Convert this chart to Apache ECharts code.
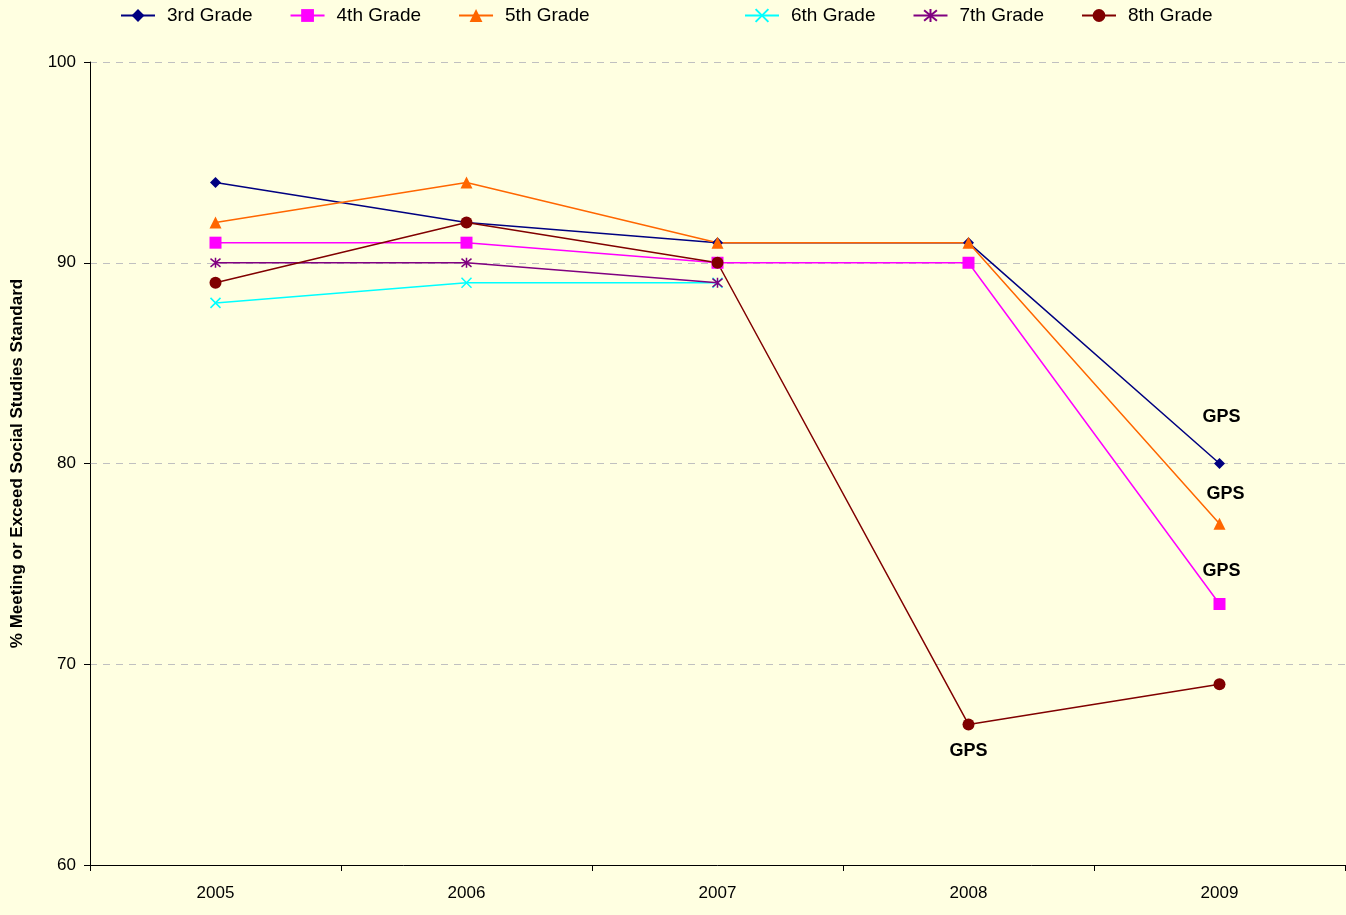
<!DOCTYPE html>
<html>
<head>
<meta charset="utf-8">
<script src="https://cdn.jsdelivr.net/npm/echarts@6/dist/echarts.min.js"></script>
<style>
html,body{margin:0;padding:0;background:#FFFFE1;}
#chart{width:1346px;height:915px;}
</style>
</head>
<body>
<div id="chart"></div>
<script>
const years = ['2005', '2006', '2007', '2008', '2009'];
const grade3 = [94, 92, 91, 91, 80];
const grade4 = [91, 91, 90, 90, 73];
const grade5 = [92, 94, 91, 91, 77];
const grade6 = [88, 89, 89, null, null];
const grade7 = [90, 90, 89, null, null];
const grade8 = [89, 92, 90, 67, 69];
const seriesNames = ['3rd Grade', '4th Grade', '5th Grade', '6th Grade', '7th Grade', '8th Grade'];
const yTicks = [60, 70, 80, 90, 100];
const noteText = 'GPS';

const chart = echarts.init(document.getElementById('chart'));

function gps(arr, idx, labelOpt) {
  return arr.map((v, i) => {
    if (i !== idx) return v;
    return { value: v, label: Object.assign({
      show: true, formatter: noteText, color: '#000', fontWeight: 'bold',
      fontSize: 18, fontFamily: 'Liberation Sans, Arial, sans-serif'
    }, labelOpt) };
  });
}

const crossPath = 'path://M0 0L10 10M10 0L0 10';
const starPath = 'path://M0 0L10 10M10 0L0 10M5 -1L5 11';

function mk(name, data, color, symbol, size, extra) {
  return Object.assign({
    name: name, type: 'line', data: data, connectNulls: false,
    symbol: symbol, symbolSize: size,
    lineStyle: { color: color, width: 1.5 },
    itemStyle: { color: color },
    emphasis: { disabled: true },
    animation: false
  }, extra || {});
}

const legendText = { fontSize: 19, color: '#000', fontFamily: 'Liberation Sans, Arial, sans-serif', padding: [0, 0, 0, 7] };

chart.setOption({
  backgroundColor: '#FFFFE1',
  animation: false,
  legend: [
    { data: seriesNames.slice(0, 3), left: 115, top: 1, itemWidth: 34, itemHeight: 16, itemGap: 37, textStyle: legendText },
    { data: seriesNames.slice(3), left: 739, top: 1, itemWidth: 34, itemHeight: 16, itemGap: 37, textStyle: legendText }
  ],
  grid: { left: 90, right: 1, top: 62, bottom: 50 },
  xAxis: {
    type: 'category', data: years, boundaryGap: true,
    axisLine: { lineStyle: { color: '#000', width: 1 } },
    axisTick: { show: true, length: 6, lineStyle: { color: '#000' } },
    axisLabel: { fontSize: 17, color: '#000', margin: 20, fontFamily: 'Liberation Sans, Arial, sans-serif' },
    splitLine: { show: false }
  },
  yAxis: {
    type: 'value', min: yTicks[0], max: yTicks[yTicks.length - 1], interval: 10,
    name: '% Meeting or Exceed Social Studies Standard',
    nameLocation: 'middle', nameGap: 64, nameRotate: 90,
    nameTextStyle: { fontSize: 17, fontWeight: 'bold', color: '#000', fontFamily: 'Liberation Sans, Arial, sans-serif' },
    axisLine: { show: true, lineStyle: { color: '#000', width: 1 } },
    axisTick: { show: true, length: 6, lineStyle: { color: '#000' } },
    axisLabel: { fontSize: 17, color: '#000', margin: 14, fontFamily: 'Liberation Sans, Arial, sans-serif' },
    splitLine: { show: true, lineStyle: { color: '#c0c0c0', type: [7, 6], width: 1 } }
  },
  series: [
    mk(seriesNames[0], gps(grade3, 4, { position: 'top', distance: 32, offset: [2, 0] }), '#000080', 'diamond', 11),
    mk(seriesNames[1], gps(grade4, 4, { position: 'top', distance: 18, offset: [2, 0] }), '#FF00FF', 'rect', 12),
    mk(seriesNames[2], gps(grade5, 4, { position: 'top', distance: 15, offset: [6, 0] }), '#FF6600', 'triangle', 12),
    mk(seriesNames[3], grade6, '#00FFFF', crossPath, 10, { itemStyle: { color: 'none', borderColor: '#00FFFF', borderWidth: 1.5 } }),
    mk(seriesNames[4], grade7, '#800080', starPath, 10, { itemStyle: { color: 'none', borderColor: '#800080', borderWidth: 1.5 } }),
    mk(seriesNames[5], gps(grade8, 3, { position: 'bottom', distance: 12, offset: [0, 0] }), '#800000', 'circle', 12)
  ]
});
</script>
</body>
</html>
